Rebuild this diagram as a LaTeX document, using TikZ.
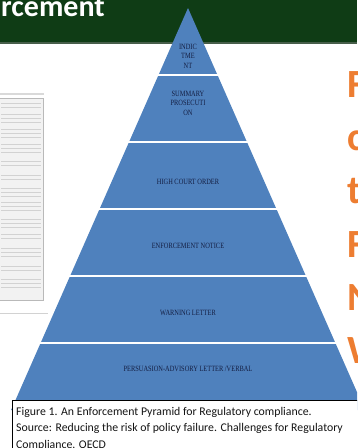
\documentclass[tikz,border=0pt]{standalone}
\usepackage{fontspec}
\usepackage{tikz}
\newfontfamily\capfont{Carlito}
\newfontfamily\tierfont[FakeStretch=0.8]{Liberation Serif}
\definecolor{slidegreen}{RGB}{15,60,21}
\definecolor{tierblue}{RGB}{79,129,189}
\definecolor{tiertext}{RGB}{20,30,66}
\definecolor{slideorange}{RGB}{237,125,49}
\tikzset{
  tier/.style={font=\tierfont\fontsize{8}{9.5}\selectfont, text=tiertext, align=center, inner sep=0pt},
  bigletter/.style={font=\capfont\bfseries\fontsize{40}{40}\selectfont, text=slideorange, anchor=base west, inner sep=0pt},
  docline/.style={gray!35, line width=0.9pt}
}

\begin{document}
\begin{tikzpicture}[x=1pt,y=-1pt]
  \useasboundingbox (0,0) rectangle (357,448);
  \clip (0,0) rectangle (357,448);

  % header band
  \fill[slidegreen] (0,0) rectangle (357,42);
  \fill[gray!50!slidegreen] (0,42) rectangle (357,43.5);
  \node[anchor=base west, inner sep=0pt, text=white, font=\capfont\bfseries\fontsize{30}{30}\selectfont] (title) at (1,16) {rcement};

  % scanned page on the left
  \fill[gray!30] (0,92.5) rectangle (44,94.5);
  \draw[gray!55, fill=gray!10] (-1,98) rectangle (43,300);
  \foreach \y in {103,107, 114,118,122, 129,133,137, 144,148,152, 161,165, 175,179,
                  188,192,196, 202,206,210, 219,223,227, 234,238, 248,252,256, 266,270, 279,283,287}{
     \draw[docline] (1,\y) -- (41,\y);
  }
  \draw[gray!35, line width=0.7pt] (0,313) -- (48,313);

  % pyramid, six tiers split by white gaps
  \fill[tierblue] (188,8) -- ({188-0.44*402},410) -- ({188+0.44*402},410) -- cycle;
  \foreach \y in {75,142,209,276,343}{
     \draw[white, line width=2.5pt] ({186-0.44*(\y-8)},\y) -- ({190+0.44*(\y-8)},\y);
  }

	\node[tier] (indict) at (188,56) {INDIC\\TME\\NT};
	\node[tier] (summary) at (188,103) {SUMMARY\\PROSECUTI\\ON};
	\node[tier] (court) at (188,182) {HIGH COURT ORDER};
	\node[tier] (notice) at (188,246) {ENFORCEMENT NOTICE};
	\node[tier] (warning) at (188,313) {WARNING LETTER};
	\node[tier] (persuade) at (188,369) {PERSUASION-ADVISORY LETTER /VERBAL};

  % orange letters at the right edge
  \foreach \c/\y in {F/97,c/150,t/203,F/257,N/310,W/363}{
     \node[bigletter] (letter\y) at (347,\y) {\c};
  }

  % caption box
  \draw[fill=white, line width=0.8pt] (12,400) rectangle (370,470);
  \node[anchor=north west, align=left, inner sep=0pt, text=black!92,
        font=\capfont\fontsize{11.8}{16.5}\selectfont] (caption) at (16,407)
    {Figure 1. An Enforcement Pyramid for Regulatory compliance.\\
     Source: Reducing the risk of policy failure. Challenges for Regulatory\\
     Compliance. OECD};
\end{tikzpicture}
\end{document}
